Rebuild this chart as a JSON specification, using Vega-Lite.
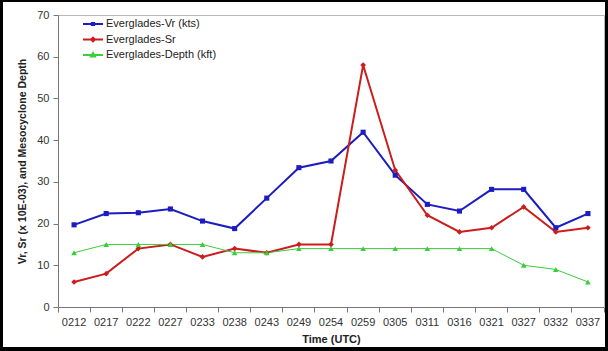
{
  "$schema": "https://vega.github.io/schema/vega-lite/v6.json",
  "width": 602,
  "height": 345,
  "autosize": {"type": "none"},
  "padding": {"left": 3, "top": 2, "right": 3, "bottom": 4},
  "background": "black",
  "config": {
    "view": {"fill": "white", "stroke": null},
    "font": "Liberation Sans",
    "axis": {"grid": false, "labelFont": "Liberation Sans", "titleFont": "Liberation Sans"}
  },
  "data": {
    "values": [
      {"time": "0212", "series": "Everglades-Vr (kts)", "value": 19.7},
      {"time": "0217", "series": "Everglades-Vr (kts)", "value": 22.4},
      {"time": "0222", "series": "Everglades-Vr (kts)", "value": 22.6},
      {"time": "0227", "series": "Everglades-Vr (kts)", "value": 23.5},
      {"time": "0233", "series": "Everglades-Vr (kts)", "value": 20.6},
      {"time": "0238", "series": "Everglades-Vr (kts)", "value": 18.8},
      {"time": "0243", "series": "Everglades-Vr (kts)", "value": 26.1},
      {"time": "0249", "series": "Everglades-Vr (kts)", "value": 33.4},
      {"time": "0254", "series": "Everglades-Vr (kts)", "value": 35.0},
      {"time": "0259", "series": "Everglades-Vr (kts)", "value": 41.9},
      {"time": "0305", "series": "Everglades-Vr (kts)", "value": 31.6},
      {"time": "0311", "series": "Everglades-Vr (kts)", "value": 24.6},
      {"time": "0316", "series": "Everglades-Vr (kts)", "value": 23.0},
      {"time": "0321", "series": "Everglades-Vr (kts)", "value": 28.2},
      {"time": "0327", "series": "Everglades-Vr (kts)", "value": 28.2},
      {"time": "0332", "series": "Everglades-Vr (kts)", "value": 19.0},
      {"time": "0337", "series": "Everglades-Vr (kts)", "value": 22.4},
      {"time": "0212", "series": "Everglades-Sr", "value": 6},
      {"time": "0217", "series": "Everglades-Sr", "value": 8},
      {"time": "0222", "series": "Everglades-Sr", "value": 14},
      {"time": "0227", "series": "Everglades-Sr", "value": 15},
      {"time": "0233", "series": "Everglades-Sr", "value": 12},
      {"time": "0238", "series": "Everglades-Sr", "value": 14},
      {"time": "0243", "series": "Everglades-Sr", "value": 13},
      {"time": "0249", "series": "Everglades-Sr", "value": 15},
      {"time": "0254", "series": "Everglades-Sr", "value": 15},
      {"time": "0259", "series": "Everglades-Sr", "value": 58},
      {"time": "0305", "series": "Everglades-Sr", "value": 32.8},
      {"time": "0311", "series": "Everglades-Sr", "value": 22},
      {"time": "0316", "series": "Everglades-Sr", "value": 18},
      {"time": "0321", "series": "Everglades-Sr", "value": 19},
      {"time": "0327", "series": "Everglades-Sr", "value": 24},
      {"time": "0332", "series": "Everglades-Sr", "value": 18},
      {"time": "0337", "series": "Everglades-Sr", "value": 19},
      {"time": "0212", "series": "Everglades-Depth (kft)", "value": 13},
      {"time": "0217", "series": "Everglades-Depth (kft)", "value": 15},
      {"time": "0222", "series": "Everglades-Depth (kft)", "value": 15},
      {"time": "0227", "series": "Everglades-Depth (kft)", "value": 15},
      {"time": "0233", "series": "Everglades-Depth (kft)", "value": 15},
      {"time": "0238", "series": "Everglades-Depth (kft)", "value": 13},
      {"time": "0243", "series": "Everglades-Depth (kft)", "value": 13},
      {"time": "0249", "series": "Everglades-Depth (kft)", "value": 14},
      {"time": "0254", "series": "Everglades-Depth (kft)", "value": 14},
      {"time": "0259", "series": "Everglades-Depth (kft)", "value": 14},
      {"time": "0305", "series": "Everglades-Depth (kft)", "value": 14},
      {"time": "0311", "series": "Everglades-Depth (kft)", "value": 14},
      {"time": "0316", "series": "Everglades-Depth (kft)", "value": 14},
      {"time": "0321", "series": "Everglades-Depth (kft)", "value": 14},
      {"time": "0327", "series": "Everglades-Depth (kft)", "value": 10},
      {"time": "0332", "series": "Everglades-Depth (kft)", "value": 9},
      {"time": "0337", "series": "Everglades-Depth (kft)", "value": 6}
    ]
  },
  "layer": [
    {
      "description": "Legend key: a line segment with the series marker on it; zero-size marks so only the legend shows",
      "mark": {"type": "point", "filled": false, "strokeWidth": 2, "opacity": 1},
      "encoding": {
        "x": {"field": "time", "type": "ordinal", "sort": null, "axis": null},
        "y": {"field": "value", "type": "quantitative", "axis": null},
        "size": {"value": 0},
        "color": {
          "field": "series", "type": "nominal",
          "scale": {
            "domain": ["Everglades-Vr (kts)", "Everglades-Sr", "Everglades-Depth (kft)"],
            "range": ["#1c1cc0", "#cc1c1c", "#3ccc3c"]
          },
          "legend": {
            "orient": "none", "legendX": 84, "legendY": 16, "title": null, "padding": 0,
            "symbolSize": 100, "symbolStrokeWidth": 2, "labelFontSize": 11, "labelColor": "#222",
            "labelOffset": 7, "rowPadding": 3.5
          }
        },
        "shape": {
          "field": "series", "type": "nominal",
          "scale": {
            "domain": ["Everglades-Vr (kts)", "Everglades-Sr", "Everglades-Depth (kft)"],
            "range": [
              "M-2,0H2M-0.22,-0.22H0.22V0.22H-0.22Z",
              "M-2,0H2M0,-0.38L0.38,0L0,0.38L-0.38,0Z",
              "M-2,0H2M0,-0.4L0.4,0.3H-0.4Z"
            ]
          },
          "legend": {
            "orient": "none", "legendX": 84, "legendY": 16, "title": null, "padding": 0,
            "symbolSize": 100, "symbolStrokeWidth": 2, "labelFontSize": 11, "labelColor": "#222",
            "labelOffset": 7, "rowPadding": 3.5
          }
        }
      }
    },
    {
      "mark": {"type": "line"},
      "encoding": {
        "x": {
          "field": "time", "type": "ordinal", "sort": null,
          "scale": {"type": "band", "range": [55, 601], "paddingInner": 0, "paddingOuter": 0},
          "axis": {
            "orient": "bottom", "offset": -40, "title": "Time (UTC)",
            "titleFontWeight": "bold", "titleFontSize": 11, "titleColor": "#222", "titlePadding": 6,
            "labelAngle": 0, "labelFontSize": 11, "labelColor": "#333", "labelPadding": 4,
            "labelOverlap": false, "labelBound": false,
            "bandPosition": 1, "tickExtra": true, "tickSize": 5, "tickColor": "#777", "domainColor": "#777"
          }
        },
        "y": {
          "field": "value", "type": "quantitative",
          "scale": {"domain": [0, 70], "range": [305, 13], "nice": false},
          "axis": {
            "orient": "left", "offset": -55, "values": [0, 10, 20, 30, 40, 50, 60, 70],
            "title": "Vr, Sr (x 10E-03), and Mesocyclone Depth",
            "titleFontWeight": "bold", "titleFontSize": 10.5, "titleColor": "#222", "titlePadding": 9,
            "labelFontSize": 11, "labelColor": "#333", "labelPadding": 4,
            "tickSize": 5, "tickColor": "#777", "domainColor": "#777"
          }
        },
        "color": {"field": "series", "type": "nominal"},
        "strokeWidth": {
          "condition": {"test": "datum.series === 'Everglades-Depth (kft)'", "value": 1},
          "value": 2
        }
      }
    },
    {
      "mark": {"type": "point", "filled": true, "opacity": 1},
      "encoding": {
        "x": {
          "field": "time", "type": "ordinal", "sort": null,
          "scale": {"type": "band", "range": [55, 601], "paddingInner": 0, "paddingOuter": 0},
          "axis": {
            "orient": "top", "offset": -13, "title": null, "labels": false, "ticks": false,
            "domainColor": "#b8b8b8"
          }
        },
        "y": {
          "field": "value", "type": "quantitative",
          "scale": {"domain": [0, 70], "range": [305, 13], "nice": false},
          "axis": {
            "orient": "right", "offset": -1, "title": null, "labels": false, "ticks": false,
            "domainColor": "#b8b8b8"
          }
        },
        "color": {"field": "series", "type": "nominal"},
        "shape": {
          "condition": [
            {"test": "datum.series === 'Everglades-Sr'", "value": "diamond"},
            {"test": "datum.series === 'Everglades-Depth (kft)'", "value": "triangle-up"}
          ],
          "value": "square"
        },
        "size": {
          "condition": {"test": "datum.series === 'Everglades-Vr (kts)'", "value": 26},
          "value": 32
        }
      }
    }
  ],
  "resolve": {"axis": {"x": "independent", "y": "independent"}}
}
